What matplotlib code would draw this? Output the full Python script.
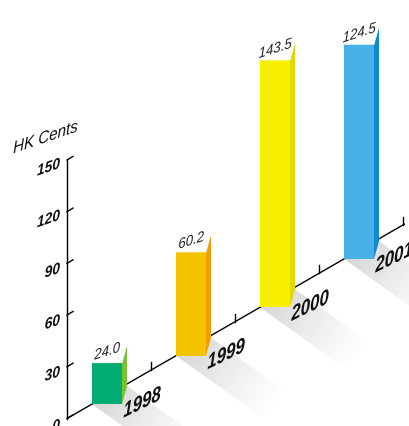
import numpy as np
import matplotlib
matplotlib.use("Agg")
import matplotlib.pyplot as plt
from matplotlib.patches import Polygon
from matplotlib.patheffects import AbstractPathEffect
from matplotlib.transforms import Affine2D

# ---- data ----
years = ["1998", "1999", "2000", "2001"]
values = [24.0, 60.2, 143.5, 124.5]
value_labels = ["24.0", "60.2", "143.5", "124.5"]
y_ticks = [0, 30, 60, 90, 120, 150]
y_title = "HK Cents"

front_colors = ["#00AC71", "#F4C300", "#F6F000", "#48B0E6"]
side_colors = ["#78C22E", "#EFA000", "#E2D900", "#0B8CD1"]

# ---- oblique projection (pixel space) ----
W, H = 410, 426
ORIGIN = np.array([67.0, 418.5])   # foot of the value axis
SLOPE = -0.576                      # rise of the category axis
SLOT = 84.0                         # horizontal width of one category
BAR_OFF, BAR_W = 25.0, 30.0
DEPTH = np.array([5.0, -18.0])      # receding edge of each bar
VMAX = 150.0
PX_PER_UNIT = (ORIGIN[1] - 160.0) / VMAX
AXIS_END_X = 405.0
SHADOW_DIR = np.array([92.0, 66.0])

FONT = "Liberation Sans"


class PlaneText(AbstractPathEffect):
    """Shear glyphs so that a rotated label keeps upright stems,
    as if it were printed on the slanted floor plane."""

    def __init__(self, shear_deg):
        super().__init__()
        self.shear = shear_deg

    def draw_path(self, renderer, gc, tpath, affine, rgbFace=None):
        renderer.draw_path(gc, tpath, Affine2D().skew_deg(self.shear, 0) + affine,
                           rgbFace)


def plane_text(x, y, s, angle, **kw):
    return ax.text(x, y, s, rotation=angle, family=FONT, style="italic",
                   path_effects=[PlaneText(angle)], **kw)


def base_point(x):
    return np.array([x, ORIGIN[1] + SLOPE * (x - ORIGIN[0])])


def vpos(v):
    return ORIGIN[1] - v * PX_PER_UNIT


fig = plt.figure(figsize=(W / 100, H / 100), dpi=100)
ax = fig.add_axes([0, 0, 1, 1])
ax.set_axis_off()


def soft_shadow(bl, brd):
    pts = np.array([bl, brd, brd + SHADOW_DIR, bl + SHADOW_DIR])
    x0, x1 = pts[:, 0].min(), pts[:, 0].max()
    y0, y1 = pts[:, 1].min(), pts[:, 1].max()
    n = 220
    X, Y = np.meshgrid(np.linspace(x0, x1, n), np.linspace(y0, y1, n))
    L = np.linalg.norm(SHADOW_DIR)
    u = SHADOW_DIR / L
    start = min(bl @ u, brd @ u)
    t = np.clip(((X * u[0] + Y * u[1]) - start) / L, 0, 1)
    rgba = np.zeros((n, n, 4))
    rgba[..., :3] = 0.45
    rgba[..., 3] = 0.30 * (1 - t) ** 1.3
    im = ax.imshow(rgba, extent=(x0, x1, y1, y0), origin="upper",
                   interpolation="bilinear", zorder=1)
    clip = Polygon(pts, closed=True, transform=ax.transData)
    im.set_clip_path(clip)


# bars, shadows and labels
for i, (yr, v, lab) in enumerate(zip(years, values, value_labels)):
    bl = base_point(ORIGIN[0] + i * SLOT + BAR_OFF)
    br = bl + np.array([BAR_W, 0.0])
    top = vpos(v) - (ORIGIN[1] - bl[1])
    h = bl[1] - top
    tl = np.array([bl[0], bl[1] - h])
    tr = np.array([br[0], br[1] - h])

    soft_shadow(bl, br + DEPTH)

    front = Polygon([bl, br, tr, tl], closed=True, facecolor=front_colors[i],
                    edgecolor="none", zorder=4)
    side = Polygon([br, tr, tr + DEPTH, br + DEPTH], closed=True,
                   facecolor=side_colors[i], edgecolor="none", zorder=4)
    lid = Polygon([tl, tr, tr + DEPTH, tl + DEPTH], closed=True,
                  facecolor="white", edgecolor="#f0f0f0", linewidth=0.5, zorder=4)
    for p in (front, side, lid):
        ax.add_patch(p)

    plane_text(bl[0] + BAR_W / 2 - 1, top - 11, lab, 18, fontsize=10,
               color="#222222", ha="center", va="center", zorder=6)
    plane_text(bl[0] + 48, bl[1] + 0.5, yr, 26, fontsize=13.5, weight="bold",
               color="#111111", ha="center", va="center", zorder=6)

# category axis with boundary ticks
end = base_point(AXIS_END_X)
ax.plot([ORIGIN[0], end[0]], [ORIGIN[1], end[1]], color="black", lw=1.0,
        zorder=2, solid_capstyle="butt")
for k in range(1, len(years) + 1):
    p = base_point(min(ORIGIN[0] + k * SLOT, AXIS_END_X - 1))
    ax.plot([p[0], p[0]], [p[1], p[1] - 8], color="black", lw=1.0, zorder=2)

# value axis
ax.plot([ORIGIN[0], ORIGIN[0]], [ORIGIN[1], vpos(VMAX)], color="black", lw=1.0,
        zorder=2)
for t in y_ticks:
    y = vpos(t)
    ax.plot([ORIGIN[0], ORIGIN[0] + 6], [y, y - 3.6], color="black", lw=1.0,
            zorder=2)
    plane_text(ORIGIN[0] - 6, y + 8, str(t), 19, fontsize=10.5, weight="bold",
               color="#111111", ha="right", va="center", zorder=6)

plane_text(44, 138, y_title, 19, fontsize=11.5, color="#111111",
           ha="center", va="center", zorder=6)

ax.set_xlim(0, W)
ax.set_ylim(H, 0)
ax.set_aspect("auto")

fig.savefig("out.png", dpi=100, facecolor="white")
